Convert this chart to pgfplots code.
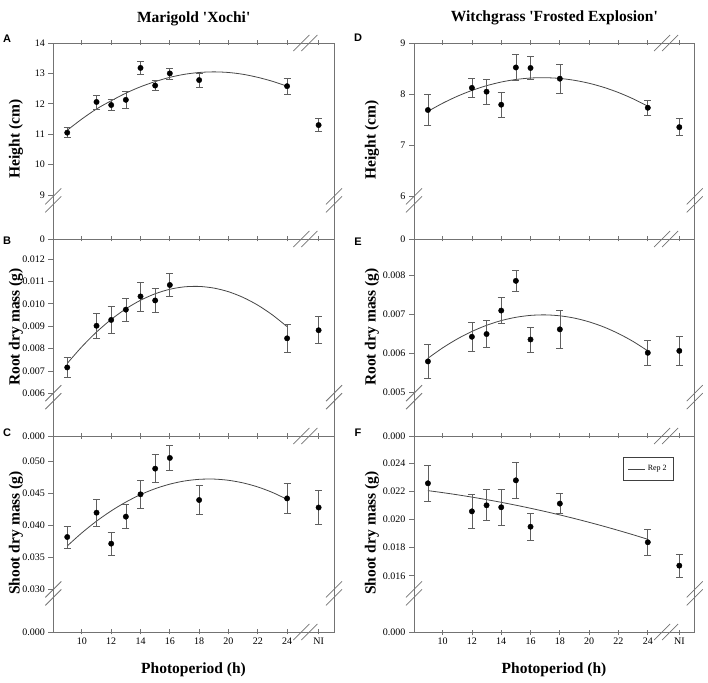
\documentclass[border=0pt]{standalone}
\usepackage{fontspec}
\setmainfont{Liberation Serif}
\newfontfamily\panelfont{Liberation Sans}
\usepackage{pgfplots}
\usepackage{pgfplotstable}
\pgfplotsset{compat=1.18}

\definecolor{axgray}{RGB}{115,115,115}
\definecolor{errgray}{RGB}{95,95,95}
\definecolor{fitgray}{RGB}{70,70,70}

% Marigold 'Xochi'
\pgfplotstableread{
x y e
9 11.05 0.17
11 12.06 0.23
12 11.96 0.19
13 12.13 0.29
14 13.18 0.20
15 12.60 0.17
16 13.00 0.18
18 12.78 0.23
24 12.58 0.27
26.15 11.30 0.22
}\datA
\pgfplotstableread{
x y
9 11.13
10 11.50
11 11.83
12 12.10
13 12.35
14 12.56
15 12.73
16 12.87
17 12.97
18 13.03
19 13.05
20 13.03
21 12.97
22 12.87
23 12.74
24 12.58
}\fitA
\pgfplotstableread{
x y e
9 0.00716 0.00043
11 0.00902 0.00055
12 0.00928 0.00060
13 0.00974 0.00052
14 0.01033 0.00065
15 0.01015 0.00053
16 0.01084 0.00050
24 0.00846 0.00061
26.15 0.00882 0.00060
}\datB
\pgfplotstableread{
x y
9 0.00734
10 0.008085
11 0.00874
12 0.009303
13 0.009776
14 0.010158
15 0.010449
16 0.010649
17 0.010758
18 0.010776
19 0.010703
20 0.01054
21 0.010285
22 0.00994
23 0.009503
24 0.00898
}\fitB
\pgfplotstableread{
x y e
9 0.03817 0.0017
11 0.04197 0.0021
12 0.03713 0.0018
13 0.04135 0.0019
14 0.04484 0.0022
15 0.04885 0.0022
16 0.05052 0.0019
18 0.04395 0.0023
24 0.04420 0.0023
26.15 0.04278 0.0027
}\datC
\pgfplotstableread{
x y
9 0.03677
10 0.03882
11 0.04065
12 0.04225
13 0.04363
14 0.04479
15 0.04572
16 0.04643
17 0.04692
18 0.04718
19 0.04722
20 0.04703
21 0.04662
22 0.04599
23 0.04513
24 0.04405
}\fitC

% Witchgrass 'Frosted Explosion'
\pgfplotstableread{
x y e
9 7.686 0.30
12 8.12 0.18
13 8.045 0.24
14 7.79 0.25
15 8.52 0.25
16 8.51 0.22
18 8.30 0.29
24 7.73 0.15
26.15 7.35 0.17
}\datD
\pgfplotstableread{
x y
9 7.66
10 7.818
11 7.955
12 8.07
13 8.163
14 8.2345
15 8.2845
16 8.313
17 8.3196
18 8.305
19 8.268
20 8.21
21 8.13
22 8.0285
23 7.905
24 7.761
}\fitD
\pgfplotstableread{
x y e
9 0.00579 0.00044
12 0.00642 0.00037
13 0.00649 0.00035
14 0.00709 0.00033
15 0.00785 0.00028
16 0.00635 0.00032
18 0.00661 0.00048
24 0.00601 0.00032
26.15 0.00606 0.00036
}\datE
\pgfplotstableread{
x y
9 0.00587
10 0.006135
11 0.006364
12 0.006556
13 0.006713
14 0.006834
15 0.006918
16 0.006967
17 0.00698
18 0.006956
19 0.006897
20 0.006801
21 0.00667
22 0.006502
23 0.006299
24 0.006059
}\fitE
\pgfplotstableread{
x y e
9 0.02256 0.0013
12 0.02057 0.0012
13 0.02100 0.0011
14 0.02086 0.0013
15 0.02277 0.00127
16 0.01948 0.00095
18 0.02112 0.0007
24 0.01838 0.0009
26.15 0.01672 0.0008
}\datF
\pgfplotstableread{
x y
9 0.02204
10 0.0219
11 0.021747
12 0.021581
13 0.021403
14 0.021211
15 0.021007
16 0.02079
17 0.020559
18 0.020317
19 0.020061
20 0.019792
21 0.019511
22 0.019216
23 0.01891
24 0.018589
}\fitF

\tikzset{brk/.style={axgray, line width=0.8pt}}

\pgfplotsset{
  panel/.style={
    scale only axis, width=280.7pt, clip=false,
    anchor=north west,
    xmin=8.05, xmax=27.2,
    xtick={10,12,14,16,18,20,22,24,26.15},
    xticklabels={},
    xtick pos=both, ytick pos=left,
    xtick align=center, ytick align=outside,
    major tick length=5pt,
    axis line style={axgray, line width=0.8pt},
    tick style={axgray, line width=0.8pt},
    scaled y ticks=false,
    ticklabel style={font=\fontsize{10}{12}\selectfont, text=black},
  },
  bottompanel/.style={xticklabels={10,12,14,16,18,20,22,24,NI}, xticklabel pos=lower},
  fit/.style={fitgray, line width=0.8pt, smooth, no marks},
  dots/.style={forget plot, only marks, mark=*, mark size=2.7pt, black,
    error bars/y dir=both, error bars/y explicit,
    error bars/error bar style={errgray, line width=0.7pt},
    error bars/error mark options={rotate=90, mark size=3.5pt, errgray, line width=0.7pt}},
}

\newcommand{\sidebreaks}{%
  \draw[brk] (rel axis cs:0,0.197) ++(-8pt,-12pt) -- ++(16pt,16pt);
  \draw[brk] (rel axis cs:0,0.197) ++(-8pt,-4pt) -- ++(16pt,16pt);
  \draw[brk] (rel axis cs:1,0.197) ++(-8pt,-12pt) -- ++(16pt,16pt);
  \draw[brk] (rel axis cs:1,0.197) ++(-8pt,-4pt) -- ++(16pt,16pt);
  \draw[brk] (rel axis cs:0.898,0) ++(-12pt,-8pt) -- ++(16pt,16pt);
  \draw[brk] (rel axis cs:0.898,0) ++(-4pt,-8pt) -- ++(16pt,16pt);
}
\newcommand{\topbreak}{%
  \draw[brk] (rel axis cs:0.898,1) ++(-12pt,-8pt) -- ++(16pt,16pt);
  \draw[brk] (rel axis cs:0.898,1) ++(-4pt,-8pt) -- ++(16pt,16pt);
}

\begin{document}
\begin{tikzpicture}
\useasboundingbox (0,0) rectangle (708pt,682pt);

% ---------- left column ----------
\begin{axis}[panel, at={(53.3pt,639pt)}, height=196pt,
  ymin=7.5529, ymax=14,
  ytick={7.553,9,10,11,12,13,14}, yticklabels={0,9,10,11,12,13,14}]
\addplot[fit] table[x=x,y=y] {\fitA};
\addplot[dots] table[x=x,y=y,y error=e] {\datA};
\sidebreaks
\topbreak
\end{axis}

\begin{axis}[panel, at={(53.3pt,443pt)}, height=197pt,
  ymin=0.0040999, ymax=0.012893,
  ytick={0.0041,0.006,0.007,0.008,0.009,0.010,0.011,0.012},
  yticklabels={0.000,0.006,0.007,0.008,0.009,0.010,0.011,0.012}]
\addplot[fit] table[x=x,y=y] {\fitB};
\addplot[dots] table[x=x,y=y,y error=e] {\datB};
\sidebreaks
\end{axis}

\begin{axis}[panel, bottompanel, at={(53.3pt,246pt)}, height=196pt,
  ymin=0.023329, ymax=0.05395,
  ytick={0.02333,0.030,0.035,0.040,0.045,0.050},
  yticklabels={0.000,0.030,0.035,0.040,0.045,0.050}]
\addplot[fit] table[x=x,y=y] {\fitC};
\addplot[dots] table[x=x,y=y,y error=e] {\datC};
\sidebreaks
\end{axis}

% ---------- right column ----------
\begin{axis}[panel, at={(414pt,639pt)}, height=196pt,
  ymin=5.1569, ymax=9,
  ytick={5.157,6,7,8,9}, yticklabels={0,6,7,8,9}]
\addplot[fit] table[x=x,y=y] {\fitD};
\addplot[dots] table[x=x,y=y,y error=e] {\datD};
\sidebreaks
\topbreak
\end{axis}

\begin{axis}[panel, at={(414pt,443pt)}, height=197pt,
  ymin=0.0038819, ymax=0.008921,
  ytick={0.003882,0.005,0.006,0.007,0.008},
  yticklabels={0.000,0.005,0.006,0.007,0.008}]
\addplot[fit] table[x=x,y=y] {\fitE};
\addplot[dots] table[x=x,y=y,y error=e] {\datE};
\sidebreaks
\end{axis}

\begin{axis}[panel, bottompanel, at={(414pt,246pt)}, height=196pt,
  ymin=0.0120139, ymax=0.025915,
  ytick={0.012014,0.016,0.018,0.020,0.022,0.024},
  yticklabels={0.000,0.016,0.018,0.020,0.022,0.024},
  legend style={at={(rel axis cs:0.926,0.891)}, anchor=north east,
    draw=black!75, line width=0.6pt, font=\fontsize{8}{9}\selectfont,
    inner xsep=5pt, inner ysep=6pt, cells={anchor=west}},
  legend image code/.code={\draw[#1] (0pt,0pt) -- (17pt,0pt);}]
\addplot[fit] table[x=x,y=y] {\fitF};
\addlegendentry{Rep 2}
\addplot[dots] table[x=x,y=y,y error=e] {\datF};
\sidebreaks
\end{axis}

% ---------- titles, labels, panel letters ----------
\begin{scope}[font=\fontsize{15.5}{18}\selectfont\bfseries]
\node at (193.7pt,663.5pt) {Marigold \textquotesingle Xochi\textquotesingle};
\node at (554.4pt,664pt) {Witchgrass \textquotesingle Frosted Explosion\textquotesingle};
\node at (193.5pt,12pt) {Photoperiod (h)};
\node at (554pt,12pt) {Photoperiod (h)};
\node[rotate=90] at (16pt,543pt) {Height (cm)};
\node[rotate=90] at (16pt,355pt) {Root dry mass (g)};
\node[rotate=90] at (16pt,149pt) {Shoot dry mass (g)};
\node[rotate=90] at (372pt,542pt) {Height (cm)};
\node[rotate=90] at (372pt,355pt) {Root dry mass (g)};
\node[rotate=90] at (372pt,149pt) {Shoot dry mass (g)};
\end{scope}
\begin{scope}[font=\panelfont\fontsize{11}{13}\selectfont\bfseries]
\node at (7pt,643.5pt) {A};
\node at (7pt,441pt) {B};
\node at (7pt,249pt) {C};
\node at (358pt,644pt) {D};
\node at (358pt,440pt) {E};
\node at (358pt,249pt) {F};
\end{scope}
\end{tikzpicture}
\end{document}
